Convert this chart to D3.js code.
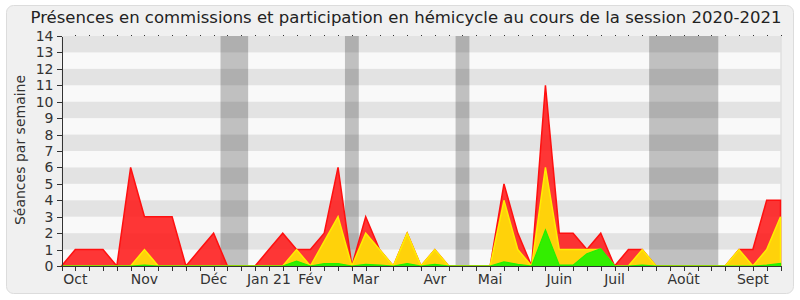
<!DOCTYPE html>
<meta charset="utf-8">
<style>
body { margin: 0; background: #fff; }
svg text { font-family: "DejaVu Sans", sans-serif; fill: #333; }
.axis path, .axis line { stroke: #333; shape-rendering: crispEdges; }
.axis text { font-size: 14px; fill: #333; }
</style>
<body>
<script src="https://d3js.org/d3.v7.min.js"></script>
<script>
// weekly values, session 2020-2021 (week index 0..52)
var presence = [0,1,1,1,0,6,3,3,3,0,1,2,0,0,0,1,2,1,1,2,6,0,3,1,0,2,0,1,0,0,0,0,5,2,0,11,2,2,1,2,0,1,1,0,0,0,0,0,0,1,1,4,4];
var participation = [0,0,0,0,0,0,1,0,0,0,0,0,0,0,0,0,0,1,0,1.5,3,0,2,1,0,2,0,1,0,0,0,0,4,1,0,6,1,1,1,1,0,0,1,0,0,0,0,0,0,1,0,1,3];
var interventions = [0,0,0,0,0,0,0.05,0,0,0,0,0,0,0,0,0,0,0.3,0,0.15,0.15,0,0.1,0.05,0,0.15,0,0.1,0,0,0,0,0.25,0.1,0,2.2,0.05,0.05,0.75,1.05,0,0,0.05,0,0,0,0,0,0,0,0,0.05,0.15];

var monthLabels = ["Oct","Nov","Déc","Jan 21","Fév","Mar","Avr","Mai","Juin","Juil","Août","Sept"];
var monthWeeks = [1,6,11,15,18,22,27,31,36,40,45,50];

// vacation weeks (shaded)
var vacations = [[11.5,13.5],[20.5,21.5],[28.5,29.5],[42.5,47.5]];

var W = 800, H = 300;
var pLeft = 61.5, pRight = 780.5, pTop = 36, pBottom = 266;

var svg = d3.select("body").append("svg")
    .attr("width", W)
    .attr("height", H);

// panel
svg.append("rect")
    .attr("x", 6.5).attr("y", 5.5)
    .attr("width", 787).attr("height", 288)
    .attr("rx", 7)
    .attr("fill", "#f0f0f0")
    .attr("stroke", "#dcdcdc");

var x = d3.scaleLinear().domain([0, presence.length - 1]).range([pLeft, pRight]);
var y = d3.scaleLinear().domain([0, 14]).range([pBottom, pTop]);

// plot background with stripes
svg.append("rect")
    .attr("x", pLeft).attr("y", pTop)
    .attr("width", pRight - pLeft).attr("height", pBottom - pTop)
    .attr("fill", "#f9f9f9");

svg.selectAll(".vac")
    .data(vacations)
  .enter().append("rect")
    .attr("class", "vac")
    .attr("x", function(d) { return x(d[0]); })
    .attr("y", pTop)
    .attr("width", function(d) { return x(d[1]) - x(d[0]); })
    .attr("height", pBottom - pTop)
    .attr("fill", "#c0c0c0");

svg.selectAll(".stripe")
    .data(d3.range(1, 14, 2))
  .enter().append("rect")
    .attr("class", "stripe")
    .attr("x", pLeft)
    .attr("y", function(d) { return y(d + 1); })
    .attr("width", pRight - pLeft)
    .attr("height", function(d) { return y(d) - y(d + 1); })
    .attr("fill", "rgba(0,0,0,0.085)");

// right edge
svg.append("line")
    .attr("x1", pRight + 0.5).attr("x2", pRight + 0.5)
    .attr("y1", pTop).attr("y2", pBottom)
    .attr("stroke", "#d8d8d8");

function area(vals) {
  return d3.area()
    .x(function(d, i) { return x(i); })
    .y0(y(0))
    .y1(function(d) { return y(d); })(vals);
}

svg.append("path")
    .attr("d", area(presence))
    .attr("fill", "rgba(255,20,20,0.85)")
    .attr("stroke", "#ff1010")
    .attr("stroke-width", 1.5);

svg.append("path")
    .attr("d", area(participation))
    .attr("fill", "#ffd20a")
    .attr("stroke", "#ffee00")
    .attr("stroke-width", 1.5);

svg.append("path")
    .attr("d", area(interventions))
    .attr("fill", "#33ee00")
    .attr("stroke", "#22f000")
    .attr("stroke-width", 1.2);

// axes
svg.append("g")
    .attr("class", "axis")
    .attr("transform", "translate(" + pLeft + ",0)")
    .call(d3.axisLeft(y).tickValues(d3.range(0, 15)).tickSize(5).tickSizeOuter(0).tickPadding(3));

svg.append("g")
    .attr("class", "axis")
    .attr("transform", "translate(0," + pBottom + ")")
    .call(d3.axisBottom(x).tickValues(d3.range(0, presence.length)).tickSize(5).tickSizeOuter(0).tickFormat(""));

svg.append("g")
    .attr("class", "axis")
    .attr("transform", "translate(0," + pTop + ")")
    .call(d3.axisTop(x).tickValues(d3.range(1, presence.length)).tickSize(1.5).tickFormat(""))
    .select(".domain").remove();

svg.selectAll(".mlabel")
    .data(monthLabels)
  .enter().append("text")
    .attr("class", "mlabel")
    .attr("x", function(d, i) { return x(monthWeeks[i]); })
    .attr("y", 283.5)
    .attr("text-anchor", "middle")
    .style("font-size", "14px")
    .text(function(d) { return d; });

// title
svg.append("text")
    .attr("x", 406)
    .attr("y", 23)
    .attr("text-anchor", "middle")
    .style("font-size", "16.5px")
    .style("fill", "#222")
    .text("Présences en commissions et participation en hémicycle au cours de la session 2020-2021");

svg.append("text")
    .attr("transform", "rotate(-90)")
    .attr("x", -150)
    .attr("y", 25)
    .attr("text-anchor", "middle")
    .style("font-size", "14px")
    .text("Séances par semaine");
</script>
</body>
